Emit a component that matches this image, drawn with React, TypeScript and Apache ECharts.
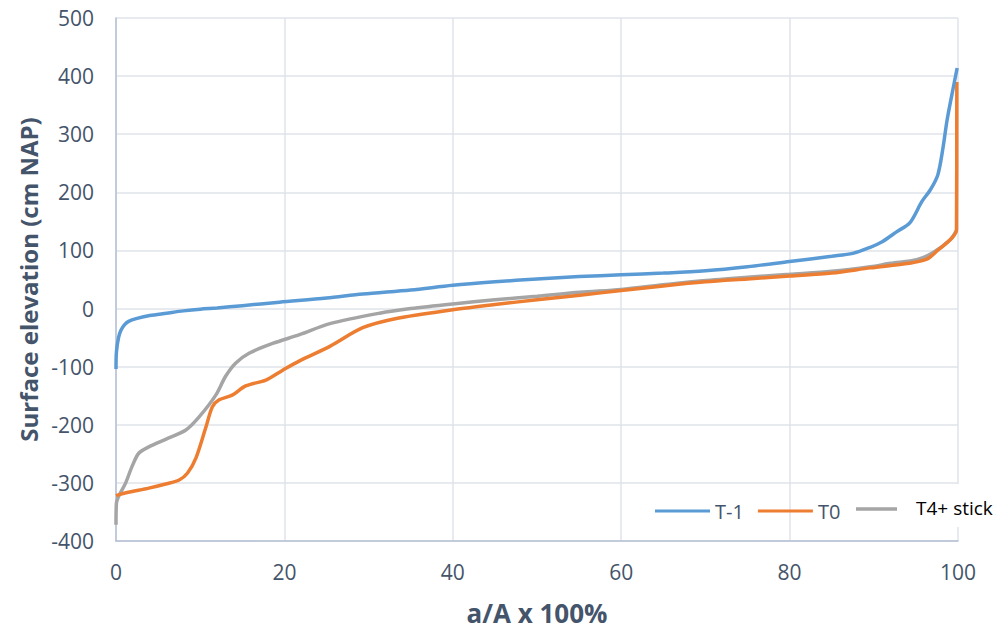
import React, { useEffect, useRef } from "react";
import * as echarts from "echarts";

const seriesNames = ["T-1", "T0", "T4+ stick"];
const colors = ["#5b9bd5", "#ed7d31", "#a5a5a5"];

const xTicks = [0, 20, 40, 60, 80, 100];
const yTicks = [-400, -300, -200, -100, 0, 100, 200, 300, 400, 500];

const tMinus1: [number, number][] = [
  [0, -104], [0.05, -75], [0.3, -50], [0.6, -37], [1.0, -28], [1.5, -22], [2.5, -17],
  [4, -12], [6, -8], [8, -4], [10, -1], [12, 1], [15, 5], [19.4, 11], [25, 18],
  [29.3, 25], [35, 32], [40, 40], [45, 46], [50, 51], [55, 55], [60, 58], [65, 61],
  [70, 65], [75, 72], [80, 81], [85, 90], [87.5, 95], [89.5, 105], [91, 115],
  [92.7, 132], [94.3, 148], [95.7, 184], [96.7, 204], [97.6, 230], [98.2, 275],
  [98.7, 324], [99.3, 370], [99.9, 414],
];

const t0: [number, number][] = [
  [0, -322], [1.2, -317], [3.9, -309], [5.9, -302], [7.5, -295], [8.5, -283],
  [9.5, -257], [10.7, -203], [11.45, -169], [12.25, -157], [13.8, -149], [15.4, -133],
  [17.8, -123], [19.8, -106], [21.8, -90], [25.4, -65], [29.3, -33], [33.3, -17],
  [40, -2], [45, 7], [50, 15], [55.1, 23], [60, 31], [65, 39], [70, 46], [75, 51],
  [80, 56], [85, 61], [89.6, 70], [94.2, 78], [96.3, 85], [97.5, 99], [99.25, 121],
  [99.82, 135], [99.86, 390],
];

const t4Stick: [number, number][] = [
  [0, -372], [0.05, -335], [1.15, -300], [1.9, -272], [2.7, -249], [3.9, -238],
  [5.9, -225], [8.3, -209], [9.9, -186], [11.85, -149], [13.0, -117], [14.2, -94],
  [15.8, -77], [18.6, -60], [21.8, -45], [25.4, -26], [31.3, -8], [35, 0], [40, 8],
  [45, 15], [50, 21], [55.1, 28], [60, 33], [65, 41], [69.7, 48], [75, 54], [80, 59],
  [85, 64], [89.6, 72], [92, 78], [95.1, 84], [97.0, 96], [99.05, 118], [99.84, 135],
];

const FONT = "'Open Sans', 'Noto Sans', sans-serif";
const LABEL = "#44546a";
const AXIS = "#b4c0d3";
const GRID = "#dfe3ea";

export default function App() {
  const ref = useRef<HTMLDivElement>(null);
  useEffect(() => {
    if (!ref.current) return;
    const chart = echarts.init(ref.current, null, { renderer: "svg" });
    const datasets = [tMinus1, t0, t4Stick];
    chart.setOption({
      animation: false,
      grid: { left: 116, right: 48, top: 18, bottom: 91 },
      xAxis: {
        type: "value",
        min: xTicks[0],
        max: xTicks[xTicks.length - 1],
        interval: 20,
        name: "a/A x 100%",
        nameLocation: "middle",
        nameGap: 59,
        nameTextStyle: { fontFamily: FONT, fontSize: 26, fontWeight: "bold", color: LABEL },
        axisLine: { show: true, onZero: false, lineStyle: { color: AXIS, width: 1.5 } },
        axisTick: { show: false },
        axisLabel: { fontFamily: FONT, fontSize: 21, color: LABEL, margin: 20 },
        splitLine: { show: true, lineStyle: { color: GRID, width: 1.5 } },
      },
      yAxis: {
        type: "value",
        min: yTicks[0],
        max: yTicks[yTicks.length - 1],
        interval: 100,
        name: "Surface elevation (cm NAP)",
        nameLocation: "middle",
        nameGap: 74,
        nameTextStyle: { fontFamily: FONT, fontSize: 24, fontWeight: "bold", color: LABEL },
        axisLine: { show: true, onZero: false, lineStyle: { color: AXIS, width: 1.5 } },
        axisTick: { show: false },
        axisLabel: { fontFamily: FONT, fontSize: 21, color: LABEL, margin: 22 },
        splitLine: { show: true, lineStyle: { color: GRID, width: 1.5 } },
      },
      legend: {
        show: true,
        data: [seriesNames[0], seriesNames[1]],
        left: 650,
        top: 496,
        itemWidth: 55,
        itemHeight: 14,
        itemGap: 14,
        icon: "path://M0,6 L55,6 L55,9 L0,9 Z",
        textStyle: { fontFamily: FONT, fontSize: 20, color: LABEL },
      },
      graphic: [
        {
          type: "line",
          shape: { x1: 856, y1: 509, x2: 897, y2: 509 },
          style: { stroke: colors[2], lineWidth: 3.5 },
          z: 100,
        },
        {
          type: "rect",
          shape: { x: 897, y: 484, width: 110, height: 43 },
          style: { fill: "#ffffff" },
          z: 100,
        },
        {
          type: "text",
          x: 916,
          y: 508,
          style: {
            text: seriesNames[2],
            fontFamily: FONT,
            fontSize: 19,
            fill: "#000000",
            verticalAlign: "middle",
          },
          z: 101,
        },
      ],
      series: datasets.map((d, i) => ({
        name: seriesNames[i],
        type: "line",
        data: d,
        showSymbol: false,
        smooth: 0.3,
        lineStyle: { color: colors[i], width: 3.5 },
        itemStyle: { color: colors[i] },
        z: 3 - i,
      })),
    });
    return () => chart.dispose();
  }, []);
  return <div ref={ref} style={{ width: 1006, height: 632, margin: -8 }} />;
}
